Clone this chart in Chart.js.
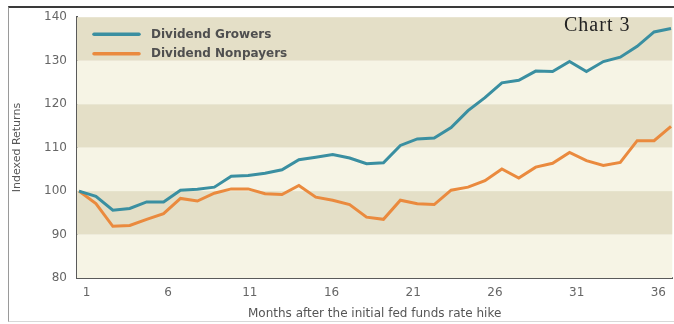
<!DOCTYPE html>
<html>
<head>
<meta charset="utf-8">
<script src="https://cdn.jsdelivr.net/npm/chart.js@4.4.1/dist/chart.umd.min.js"></script>
<style>
  html, body { margin: 0; padding: 0; background: #fff; }
  #wrap { position: relative; width: 674px; height: 324px; overflow: hidden; }
  #frame { position: absolute; left: 8px; top: 6px; width: 670px; height: 316px;
           border-top: 2px solid #3a3a3a; border-left: 1px solid #9a9a9a; border-bottom: 1px solid #d8d8d8; box-sizing: border-box; }
  #c { position: absolute; left: 0; top: 0; }
  #tag { position: absolute; left: 564px; top: 13px; font-family: "Liberation Serif", serif; font-size: 20px;
         letter-spacing: 1px; color: #222; white-space: nowrap; }
</style>
</head>
<body>
<div id="wrap">
  <div id="frame"></div>
  <canvas id="c" width="674" height="324"></canvas>
  <div id="tag">Chart 3</div>
</div>
<script>
const months = [1,2,3,4,5,6,7,8,9,10,11,12,13,14,15,16,17,18,19,20,21,22,23,24,25,26,27,28,29,30,31,32,33,34,35,36];
const growers = [100, 98.8, 95.6, 96.0, 97.5, 97.5, 100.2, 100.4, 100.9, 103.4, 103.6, 104.1,
                 104.9, 107.2, 107.8, 108.4, 107.6, 106.3, 106.5, 110.5, 112.0, 112.2, 114.6, 118.5,
                 121.5, 124.9, 125.5, 127.6, 127.5, 129.8, 127.5, 129.8, 130.8, 133.3, 136.6, 137.4];
const nonpayers = [100, 97.1, 91.9, 92.1, 93.5, 94.8, 98.3, 97.7, 99.5, 100.5, 100.5, 99.4,
                   99.2, 101.3, 98.6, 97.9, 96.9, 94.0, 93.5, 97.9, 97.1, 96.9, 100.2, 100.9,
                   102.4, 105.1, 103.0, 105.5, 106.4, 108.9, 107.0, 105.9, 106.6, 111.6, 111.6, 114.9];
const tickMonths = [1, 6, 11, 16, 21, 26, 31, 36];
const yTicks = [80, 90, 100, 110, 120, 130, 140];
const seriesNames = ["Dividend Growers", "Dividend Nonpayers"];
const xTitle = "Months after the initial fed funds rate hike";
const yTitle = "Indexed Returns";

const toPoints = arr => arr.map((v, i) => ({ x: months[i], y: v }));

const bandPlugin = {
  id: 'bands',
  beforeDatasetsDraw(chart) {
    const { ctx, chartArea, scales } = chart;
    const y = scales.y;
    ctx.save();
    for (let i = 0; i < yTicks.length - 1; i++) {
      const lo = yTicks[i], hi = yTicks[i + 1];
      const top = y.getPixelForValue(hi), bot = y.getPixelForValue(lo);
      ctx.fillStyle = (i % 2 === 1) ? '#e4dfc7' : '#f6f4e5';
      ctx.fillRect(chartArea.left, top, chartArea.right - chartArea.left, bot - top);
    }
    ctx.restore();
  }
};

const legendPlugin = {
  id: 'inlegend',
  afterDatasetsDraw(chart) {
    const { ctx, chartArea } = chart;
    ctx.save();
    chart.data.datasets.forEach((ds, i) => {
      const yy = chartArea.top + 17 + i * 19.5;
      ctx.strokeStyle = ds.borderColor;
      ctx.lineWidth = 3.5;
      ctx.lineCap = 'round';
      ctx.beginPath();
      ctx.moveTo(chartArea.left + 17, yy);
      ctx.lineTo(chartArea.left + 62, yy);
      ctx.stroke();
      ctx.fillStyle = '#4f4f4f';
      ctx.font = 'bold 12px "DejaVu Sans"';
      ctx.textBaseline = 'middle';
      ctx.fillText(ds.label, chartArea.left + 74, yy + 0.5);
    });
    ctx.restore();
  }
};

new Chart(document.getElementById('c'), {
  type: 'line',
  data: {
    datasets: [
      { label: seriesNames[0], data: toPoints(growers), borderColor: '#3a8fa1', borderWidth: 3,
        pointRadius: 0, tension: 0, xAxisID: 'x', yAxisID: 'y' },
      { label: seriesNames[1], data: toPoints(nonpayers), borderColor: '#ea8a3e', borderWidth: 3,
        pointRadius: 0, tension: 0, xAxisID: 'x', yAxisID: 'y' }
    ]
  },
  options: {
    responsive: false,
    animation: false,
    layout: { padding: { left: 0, right: 1, top: 15, bottom: 0 } },
    plugins: { legend: { display: false }, tooltip: { enabled: false } },
    scales: {
      x: { type: 'linear', display: false, min: 0.882, max: 36.077 },
      x2: {
        type: 'linear', position: 'bottom', min: 0.419, max: 36.856,
        afterBuildTicks(scale) { scale.ticks = tickMonths.map(v => ({ value: v })); },
        afterFit(scale) { scale.height = 46; },
        grid: { display: false, drawTicks: false },
        border: { display: true, color: '#5a5a5a', width: 2 },
        ticks: { color: '#666', padding: 8, font: { family: 'DejaVu Sans', size: 12 },
                 callback: v => String(v), maxRotation: 0, autoSkip: false },
        title: { display: true, text: xTitle, color: '#555', font: { family: 'DejaVu Sans', size: 12 },
                 padding: { top: 0, bottom: 3 } }
      },
      y: {
        type: 'linear', min: 80, max: 140,
        afterBuildTicks(scale) { scale.ticks = yTicks.map(v => ({ value: v })); },
        afterFit(scale) { scale.width = 77; },
        grid: { display: false, drawTicks: false },
        border: { display: true, color: '#5a5a5a', width: 2 },
        ticks: { color: '#666', padding: 10, font: { family: 'DejaVu Sans', size: 12 } },
        title: { display: true, text: yTitle, color: '#555', font: { family: 'DejaVu Sans', size: 11 },
                 padding: { top: 11, bottom: 0 } }
      }
    }
  },
  plugins: [bandPlugin, legendPlugin]
});
</script>
</body>
</html>
